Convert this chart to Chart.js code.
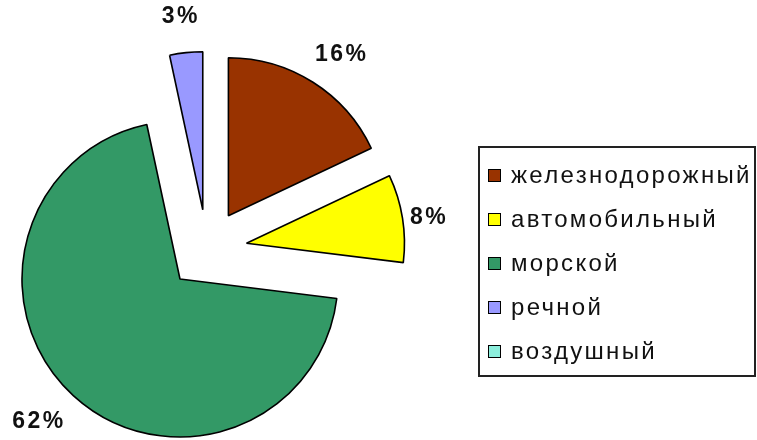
<!DOCTYPE html>
<html>
<head>
<meta charset="utf-8">
<script src="https://cdn.jsdelivr.net/npm/chart.js@4/dist/chart.umd.min.js"></script>
<style>
  html, body { margin:0; padding:0; background:#fff; }
  #wrap { position:relative; width:757px; height:440px; overflow:hidden; }
  #c { position:absolute; left:0; top:0; }
  #legend { position:absolute; left:478px; top:146px; width:274px; height:222px;
            border:2px solid #222; padding-top:5px; box-sizing:content-box;
            font-family:"Liberation Sans", Arial, sans-serif; font-size:24px; color:#111; }
  .row { height:44px; display:flex; align-items:center; padding-left:8px; }
  .sw { width:13px; height:13px; border:1px solid #000; box-sizing:border-box; margin-right:10px; flex:none; }
  .tx { letter-spacing:2.3px; white-space:nowrap; }
</style>
</head>
<body>
<div id="wrap">
  <canvas id="c" width="757" height="440"></canvas>
  <div id="legend"></div>
</div>
<script>
// ---- data ----
const categories = ['железнодорожный', 'автомобильный', 'морской', 'речной', 'воздушный'];
const shares = [16, 8, 62, 3, 0];
const percentLabels = ['16%', '8%', '62%', '3%', ''];
const sliceColors = ['#993300', '#FFFF00', '#339966', '#9999FF', '#8CEEDC'];

// ---- legend (HTML) ----
const legendEl = document.getElementById('legend');
categories.forEach((name, i) => {
  const row = document.createElement('div');
  row.className = 'row';
  const sw = document.createElement('span');
  sw.className = 'sw';
  sw.style.background = sliceColors[i];
  const tx = document.createElement('span');
  tx.className = 'tx';
  tx.textContent = name;
  row.appendChild(sw); row.appendChild(tx);
  legendEl.appendChild(row);
});

// ---- plugins ----
const explodePlugin = {
  id: 'explode',
  afterDatasetsUpdate(chart, args, opts) {
    const meta = chart.getDatasetMeta(0);
    meta.data.forEach(arc => {
      const half = (arc.startAngle + arc.endAngle) / 2;
      arc.x += Math.cos(half) * opts.distance;
      arc.y += Math.sin(half) * opts.distance;
    });
  }
};

const labelPlugin = {
  id: 'pctLabels',
  afterDatasetsDraw(chart, args, opts) {
    const ctx = chart.ctx;
    const meta = chart.getDatasetMeta(0);
    ctx.save();
    ctx.font = opts.font;
    if ('letterSpacing' in ctx) ctx.letterSpacing = opts.letterSpacing;
    ctx.fillStyle = opts.color;
    ctx.textAlign = 'center';
    ctx.textBaseline = 'alphabetic';
    meta.data.forEach((arc, i) => {
      const txt = percentLabels[i];
      if (!txt || shares[i] <= 0) return;
      const half = (arc.startAngle + arc.endAngle) / 2;
      const dx = Math.cos(half), dy = Math.sin(half);
      const gap = opts.gapX * Math.abs(dx) + opts.gapY * Math.abs(dy);
      const r = arc.outerRadius + gap;
      const w = ctx.measureText(txt).width;
      const h = opts.capHeight;
      const cx = arc.x + dx * r + dx * w / 2;
      const cy = arc.y + dy * r + dy * h / 2;
      ctx.fillText(txt, cx, cy + h / 2);
    });
    ctx.restore();
  }
};

// ---- chart ----
new Chart(document.getElementById('c'), {
  type: 'pie',
  data: {
    labels: categories,
    datasets: [{
      data: shares,
      backgroundColor: sliceColors,
      borderColor: '#000',
      borderWidth: 1.6
    }]
  },
  options: {
    responsive: false,
    animation: false,
    devicePixelRatio: 1,
    events: [],
    radius: 158,
    layout: { padding: { left: 0, right: 343, top: 59, bottom: 0 } },
    plugins: {
      legend: { display: false },
      tooltip: { enabled: false },
      explode: { distance: 40 },
      pctLabels: { font: 'bold 23px "Liberation Sans", Arial, sans-serif', letterSpacing: '2.5px',
                   color: '#111', gapX: 3, gapY: 30, capHeight: 16.5 }
    }
  },
  plugins: [explodePlugin, labelPlugin]
});
</script>
</body>
</html>
